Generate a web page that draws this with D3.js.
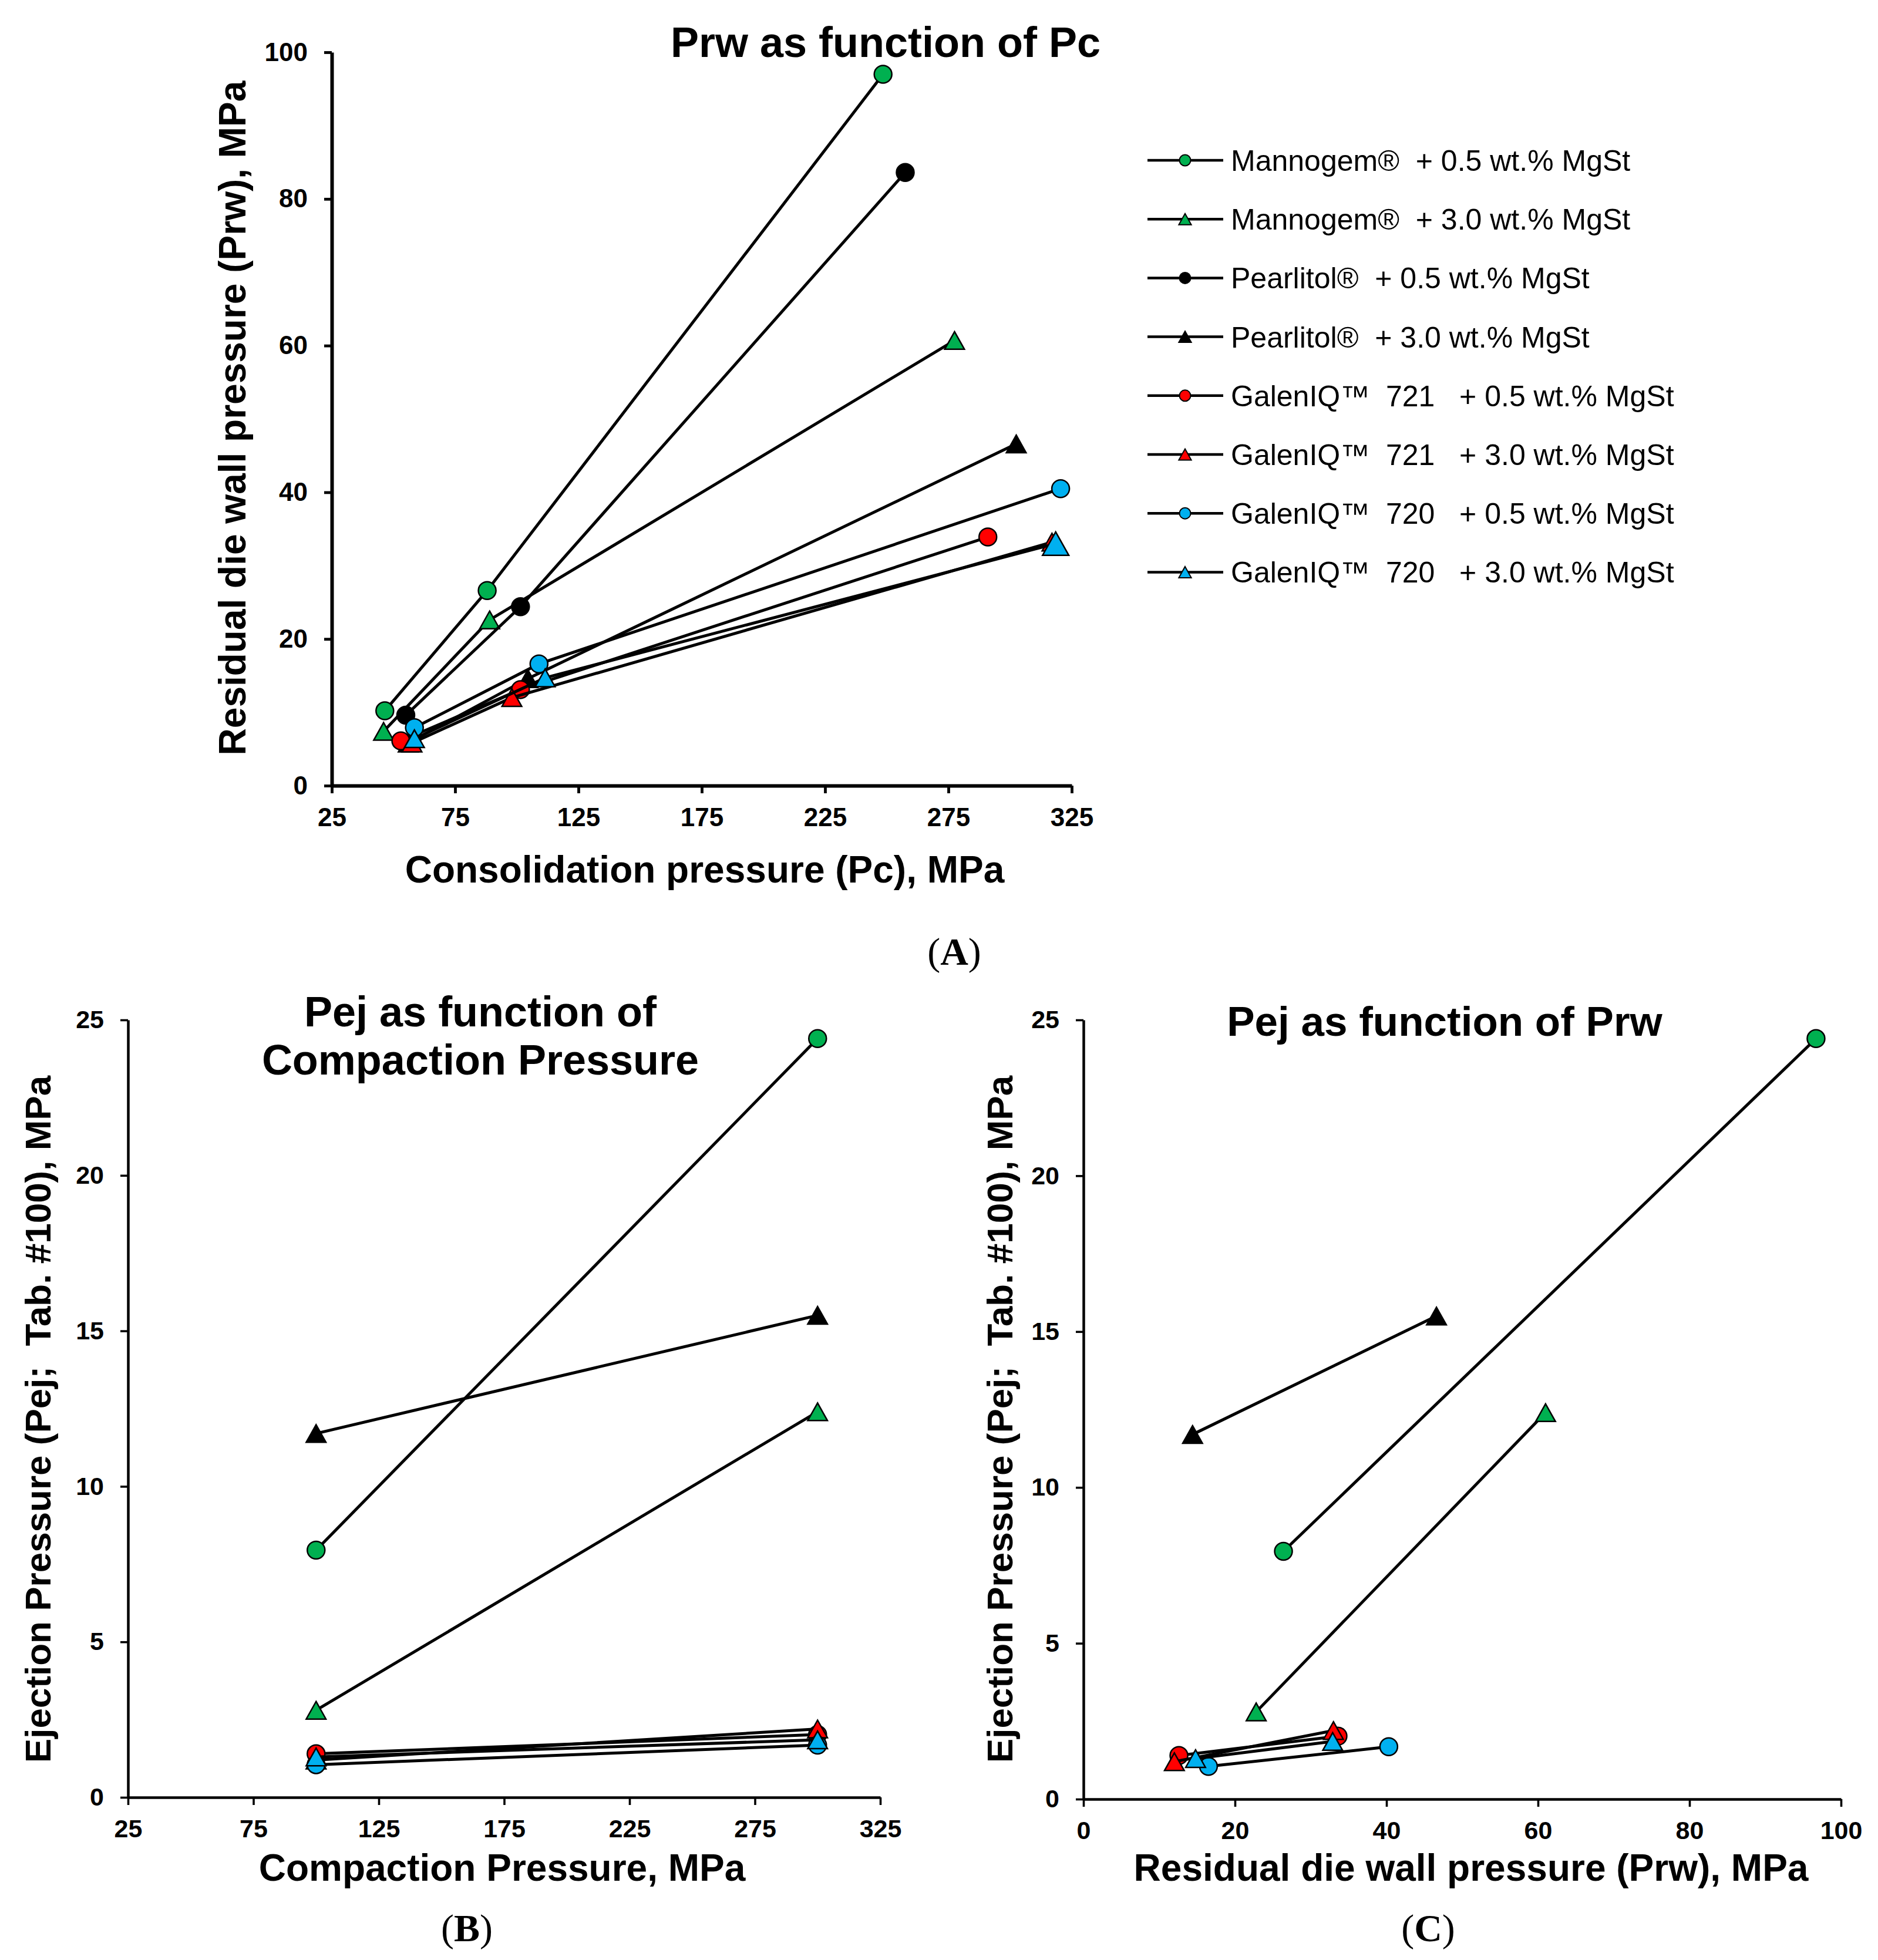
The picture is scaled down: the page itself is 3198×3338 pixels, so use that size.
<!DOCTYPE html>
<html>
<head>
<meta charset="utf-8">
<script src="https://cdn.jsdelivr.net/npm/d3@7"></script>
<style>
  body { margin: 0; background: #fff; }
  text { font-family: "Liberation Sans", Arial, sans-serif; }
</style>
</head>
<body>
<svg id="fig" width="3198" height="3338"></svg>
<script>
// Series (legend order)
const seriesNames = [
  "Mannogem®  + 0.5 wt.% MgSt",
  "Mannogem®  + 3.0 wt.% MgSt",
  "Pearlitol®  + 0.5 wt.% MgSt",
  "Pearlitol®  + 3.0 wt.% MgSt",
  "GalenIQ™  721   + 0.5 wt.% MgSt",
  "GalenIQ™  721   + 3.0 wt.% MgSt",
  "GalenIQ™  720   + 0.5 wt.% MgSt",
  "GalenIQ™  720   + 3.0 wt.% MgSt"
];

// Panel A: consolidation pressure Pc (MPa) and residual die wall pressure Prw (MPa)
const pcA = [
  [46.5, 88, 248.5],
  [46, 89, 277.5],
  [55, 101.5, 257.5],
  [56, 104.5, 302.5],
  [53, 101.5, 291],
  [57.5, 98, 317],
  [58.5, 109, 320.5],
  [58.5, 111.5, 318.5]
];
const prwA = [
  [10.2, 26.6, 97],
  [7.4, 22.6, 60.7],
  [9.6, 24.4, 83.6],
  [5.8, 14.6, 46.6],
  [6.1, 13.1, 33.9],
  [5.8, 12, 33.2],
  [7.9, 16.6, 40.5],
  [6.4, 14.7, 33.0]
];

// Panel B: compaction pressure vs ejection pressure (no Pearlitol 0.5 data)
const pcB = [100, 300];
const pejB = [
  [7.95, 24.4],
  [2.8, 12.4],
  null,
  [11.7, 15.5],
  [1.4, 2.02],
  [1.2, 2.2],
  [1.05, 1.68],
  [1.3, 1.85]
];

// Panel C: Prw at the two compaction pressures vs the same ejection pressures
const prwC = [
  [26.4, 96.7],
  [22.8, 61],
  null,
  [14.4, 46.6],
  [12.6, 33.6],
  [12.0, 33.0],
  [16.5, 40.3],
  [14.8, 32.9]
];

// tick values
const ticksPc = [25, 75, 125, 175, 225, 275, 325];
const ticksPrwA = [0, 20, 40, 60, 80, 100];
const ticksPej = [0, 5, 10, 15, 20, 25];
const ticksPrwC = [0, 20, 40, 60, 80, 100];

// marker styles per series
const fills = ["#00b050", "#00b050", "#000000", "#000000", "#ff0000", "#ff0000", "#00b0f0", "#00b0f0"];
const shapes = ["circle", "triangle", "circle", "triangle", "circle", "triangle", "circle", "triangle"];

const svg = d3.select("#fig");
svg.append("rect").attr("width", 3198).attr("height", 3338).attr("fill", "#fff");

function markerPath(shape, size) {
  if (shape === "circle") {
    const r = size / 2;
    return `M${-r},0A${r},${r} 0 1,0 ${r},0A${r},${r} 0 1,0 ${-r},0Z`;
  }
  const w = size * 1.12, h = size;
  return `M0,${-h / 2}L${w / 2},${h / 2}L${-w / 2},${h / 2}Z`;
}

function drawAxes(g, x, y, xTicks, yTicks, opt) {
  const ax = g.append("g")
    .attr("transform", `translate(0,${y.range()[0]})`)
    .call(d3.axisBottom(x).tickValues(xTicks).tickSize(13).tickSizeOuter(0).tickPadding(opt.xPad));
  const ay = g.append("g")
    .attr("transform", `translate(${x.range()[0]},0)`)
    .call(d3.axisLeft(y).tickValues(yTicks).tickSize(13).tickSizeOuter(0).tickPadding(opt.yPad));
  [ax, ay].forEach(a => {
    a.attr("font-family", null).attr("font-size", null);
    a.select(".domain").attr("stroke", "#000").attr("stroke-width", opt.axisW);
    a.selectAll(".tick line").attr("stroke", "#000").attr("stroke-width", opt.axisW * 0.8);
    a.selectAll(".tick text")
      .attr("fill", "#000")
      .style("font-family", "'Liberation Sans', Arial, sans-serif")
      .style("font-weight", "bold")
      .style("font-size", opt.tickFont + "px");
  });
}

function drawSeries(g, x, y, xs, ys, sizeFn) {
  xs.forEach((xv, i) => {
    if (!xv || !ys[i]) return;
    const pts = xv.map((v, j) => [v, ys[i][j]]);
    const sg = g.append("g");
    sg.append("path")
      .attr("d", d3.line().x(d => x(d[0])).y(d => y(d[1]))(pts))
      .attr("fill", "none")
      .attr("stroke", "#000")
      .attr("stroke-width", 5);
    sg.selectAll("path.mk")
      .data(pts)
      .enter().append("path")
      .attr("class", "mk")
      .attr("transform", d => `translate(${x(d[0])},${y(d[1])})`)
      .attr("d", (d, j) => markerPath(shapes[i], sizeFn(i, j)))
      .attr("fill", fills[i])
      .attr("stroke", "#000")
      .attr("stroke-width", 2.5);
  });
}

function boldText(x, y, str, size, rotate) {
  const t = svg.append("text")
    .attr("text-anchor", "middle")
    .style("font-weight", "bold")
    .style("font-size", size + "px")
    .style("white-space", "pre")
    .attr("fill", "#000")
    .text(str);
  if (rotate) t.attr("transform", `translate(${x},${y}) rotate(-90)`);
  else t.attr("x", x).attr("y", y);
  return t;
}

function panelLabel(x, y, letter) {
  const t = svg.append("text")
    .attr("x", x).attr("y", y)
    .attr("text-anchor", "middle")
    .style("font-family", "'Liberation Serif', 'Times New Roman', serif")
    .style("font-size", "66px")
    .attr("fill", "#000");
  t.append("tspan").text("(");
  t.append("tspan").style("font-weight", "bold").text(letter);
  t.append("tspan").text(")");
}

// ---------- Panel A ----------
const xA = d3.scaleLinear().domain([25, 325]).range([565, 1825]);
const yA = d3.scaleLinear().domain([0, 100]).range([1338, 89]);
const gA = svg.append("g");
drawAxes(gA, xA, yA, ticksPc, ticksPrwA, {axisW: 6, tickFont: 44, xPad: 25, yPad: 28});
drawSeries(gA, xA, yA, pcA, prwA, (i, j) => (i === 7 && j === 2) ? 40 : 30);
boldText(1508, 97, "Prw as function of Pc", 72);
boldText(1200, 1503, "Consolidation pressure (Pc), MPa", 64);
boldText(418, 712, "Residual die wall pressure (Prw), MPa", 64, true);
panelLabel(1625, 1643, "A");

// legend
const legend = svg.append("g");
seriesNames.forEach((name, i) => {
  const ly = 273 + i * 100.2;
  legend.append("line")
    .attr("x1", 1954).attr("x2", 2083).attr("y1", ly).attr("y2", ly)
    .attr("stroke", "#000").attr("stroke-width", 4.5);
  legend.append("path")
    .attr("transform", `translate(2018,${ly})`)
    .attr("d", markerPath(shapes[i], 19))
    .attr("fill", fills[i]).attr("stroke", "#000").attr("stroke-width", 2);
  legend.append("text")
    .attr("x", 2096).attr("y", ly + 18)
    .style("font-size", "50px")
    .style("white-space", "pre")
    .attr("fill", "#000")
    .text(name);
});

// ---------- Panel B ----------
const xB = d3.scaleLinear().domain([25, 325]).range([218, 1499]);
const yB = d3.scaleLinear().domain([0, 25]).range([3061, 1737]);
const gB = svg.append("g");
drawAxes(gB, xB, yB, ticksPc, ticksPej, {axisW: 4.5, tickFont: 43, xPad: 24, yPad: 28});
drawSeries(gB, xB, yB, pejB.map(d => d ? pcB : null), pejB, () => 30);
boldText(818, 1748, "Pej as function of", 72);
boldText(818, 1830, "Compaction Pressure", 72);
boldText(855, 3203, "Compaction Pressure, MPa", 64);
boldText(86, 2417, "Ejection Pressure (Pej;  Tab. #100), MPa", 62, true);
panelLabel(795, 3306, "B");

// ---------- Panel C ----------
const xC = d3.scaleLinear().domain([0, 100]).range([1845, 3135]);
const yC = d3.scaleLinear().domain([0, 25]).range([3064, 1737]);
const gC = svg.append("g");
drawAxes(gC, xC, yC, ticksPrwC, ticksPej, {axisW: 4.5, tickFont: 43, xPad: 24, yPad: 28});
drawSeries(gC, xC, yC, prwC, pejB, () => 30);
boldText(2460, 1764, "Pej as function of Prw", 71);
boldText(2505, 3203, "Residual die wall pressure (Prw), MPa", 64);
boldText(1724, 2417, "Ejection Pressure (Pej;  Tab. #100), MPa", 62, true);
panelLabel(2432, 3306, "C");
</script>
</body>
</html>
